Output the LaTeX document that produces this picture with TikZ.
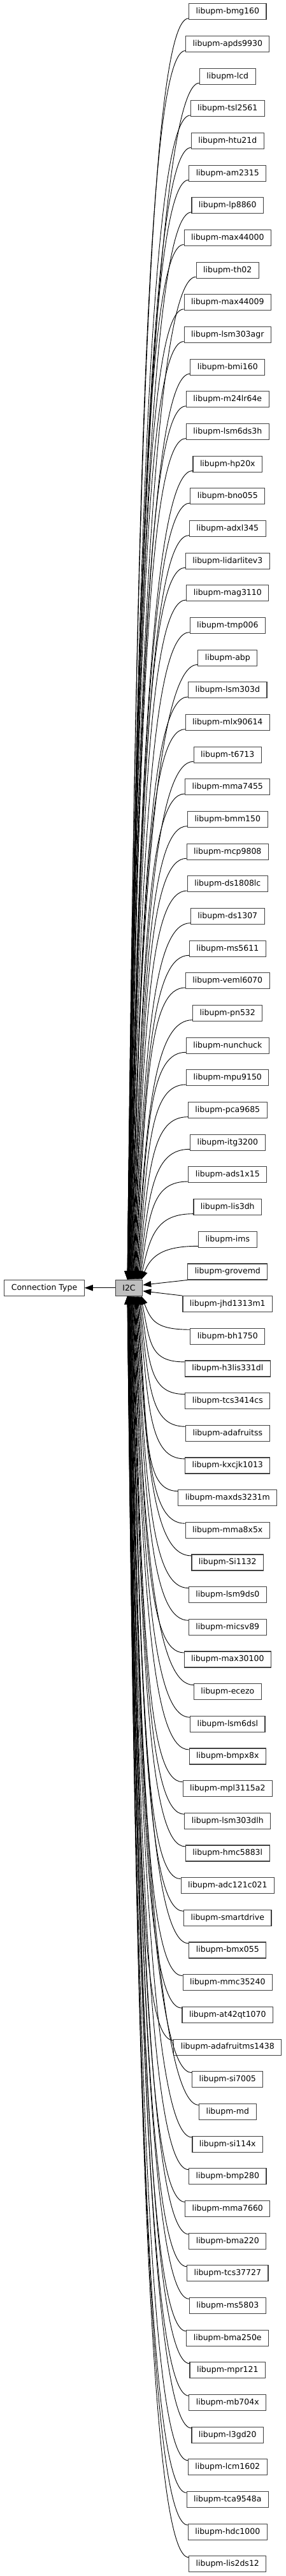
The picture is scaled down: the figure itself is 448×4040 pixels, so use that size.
\documentclass[tikz,border=0pt]{standalone}
\usepackage{fontspec}
\setmainfont{DejaVu Sans}
\usetikzlibrary{arrows.meta}
\definecolor{boxline}{HTML}{404040}
\definecolor{curfill}{HTML}{BFBFBF}
\tikzset{
  libbox/.style={draw=boxline, line width=1.1pt, fill=white, minimum height=25pt, inner xsep=11pt, inner ysep=2pt, font=\fontsize{12.5}{15}\selectfont},
  curbox/.style={libbox, fill=curfill},
  depline/.style={draw=black, line width=0.9pt, -{Triangle[length=13pt,width=9.5pt]}}
}
\begin{document}
\begin{tikzpicture}[x=1pt,y=1pt]
\useasboundingbox (0,0) rectangle (448,-4040);
\node[libbox] (ct) at (69.5,-2019.75) {Connection Type};
\node[curbox] (I2C) at (202.5,-2019.75) {I2C};
\foreach \name [count=\k] in {bmg160, apds9930, lcd, tsl2561, htu21d, am2315, lp8860, max44000, th02, max44009, lsm303agr, bmi160, m24lr64e, lsm6ds3h, hp20x, bno055, adxl345, lidarlitev3, mag3110, tmp006, abp, lsm303d, mlx90614, t6713, mma7455, bmm150, mcp9808, ds1808lc, ds1307, ms5611, veml6070, pn532, nunchuck, mpu9150, pca9685, itg3200, ads1x15, lis3dh, ims, grovemd, jhd1313m1, bh1750, h3lis331dl, tcs3414cs, adafruitss, kxcjk1013, maxds3231m, mma8x5x, Si1132, lsm9ds0, micsv89, max30100, ecezo, lsm6dsl, bmpx8x, mpl3115a2, lsm303dlh, hmc5883l, adc121c021, smartdrive, bmx055, mmc35240, at42qt1070, adafruitms1438, si7005, md, si114x, bmp280, mma7660, bma220, tcs37727, ms5803, bma250e, mpr121, mb704x, l3gd20, lcm1602, tca9548a, hdc1000, lis2ds12} {
  \node[libbox] (n\k) at (357.3,{-(18.3+(\k-1)*50.67)}) {libupm-\name};
}
\draw[depline] (I2C) -- (ct);
\foreach \k in {1,...,39} {
  \pgfmathsetmacro\D{2007.25-(18.3+(\k-1)*50.67+10)}
  \pgfmathsetmacro\c{0.7*\D}
  \pgfmathsetmacro\ex{-2.5+22*((\k-1)/38)^2}
  \draw[depline] ([yshift=2.5pt]n\k.south west) .. controls +(-55,0) and +(15,\c) .. ([xshift=\ex pt]I2C.north);
}
\foreach \k in {42,...,80} {
  \pgfmathsetmacro\D{(18.3+(\k-1)*50.67-10)-2032.25}
  \pgfmathsetmacro\c{0.7*\D}
  \pgfmathsetmacro\ex{-2.5+22*((80-\k)/38)^2}
  \draw[depline] ([yshift=-2.5pt]n\k.north west) .. controls +(-55,0) and +(15,-\c) .. ([xshift=\ex pt]I2C.south);
}
\draw[depline] (n40.south west) -- ([yshift=4.5pt]I2C.east);
\draw[depline] (n41.north west) -- ([yshift=-5pt]I2C.east);
\end{tikzpicture}
\end{document}
